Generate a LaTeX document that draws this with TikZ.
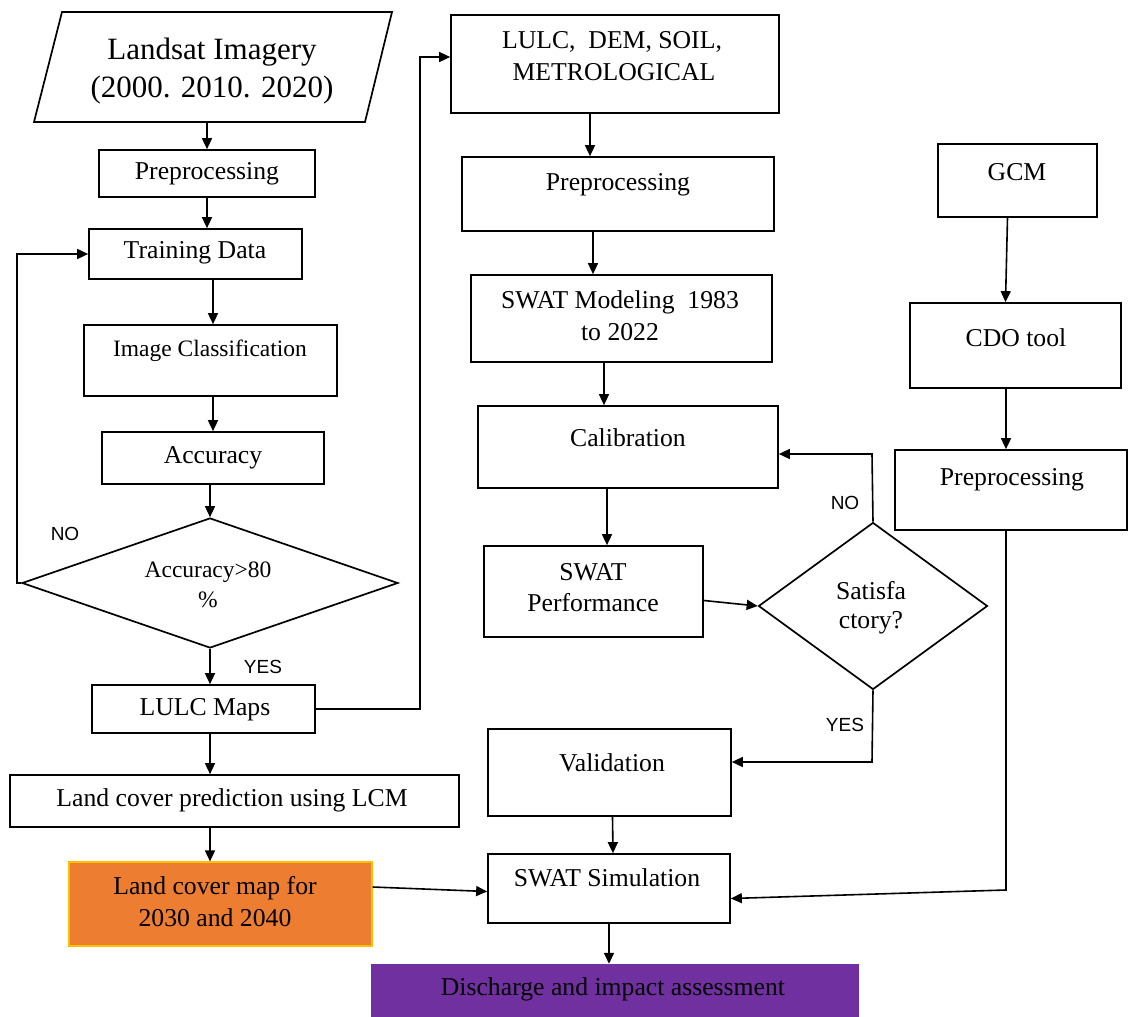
\documentclass[tikz,border=0pt]{standalone}
\usepackage{fontspec}
\setmainfont{Liberation Serif}
\newfontfamily\labsans{Liberation Sans}
\usetikzlibrary{arrows.meta,shapes.geometric,fit,calc}
\definecolor{orangefill}{HTML}{ED7D31}
\definecolor{orangeedge}{HTML}{FFC000}
\definecolor{purplefill}{HTML}{7030A0}
\tikzset{
  box/.style={draw, line width=1.7pt, inner sep=0pt},
  txt/.style={font=\fontsize{25.7}{30}\selectfont, inner sep=0pt, align=center},
  bigtxt/.style={font=\fontsize{31}{37}\selectfont, inner sep=0pt, align=center},
  lab/.style={font=\labsans\fontsize{19}{22}\selectfont, inner sep=0pt},
  arr/.style={line width=1.6pt, -{Triangle[length=11pt,width=10pt]}},
  ln/.style={line width=1.7pt}
}
\begin{document}
\begin{tikzpicture}[x=1pt,y=-1pt]
\useasboundingbox (0,0) rectangle (1128,1017);
\fill[white] (0,0) rectangle (1128,1017);

% ---------- left column ----------
\draw[ln] (62,12) -- (392,12) -- (365,122) -- (34,122) -- cycle;
\coordinate (landS) at (207,122);
\node[bigtxt] (tland1) at (212,52) {Landsat Imagery};
\node[bigtxt] (tland2) at (212,90) {(2000. 2010. 2020)};

\node[box, fit={(99,150) (315,197)}] (pre1) {};
\node[txt] (tpre1) at (207,174) {Preprocessing};

\node[box, fit={(89,229) (302,279)}] (train) {};
\node[txt] (ttrain) at (195,253) {Training Data};

\node[box, fit={(84,325) (337,396)}] (imgc) {};
\node[txt, font=\fontsize{23.5}{28}\selectfont] (timgc) at (210,351) {Image Classification};

\node[box, fit={(102,432) (324,484)}] (acc) {};
\node[txt] (tacc) at (213,458) {Accuracy};

\node[box, diamond, minimum width=376pt, minimum height=130pt] (dacc) at (210,583) {};
\node[txt, font=\fontsize{23.5}{28}\selectfont] (tdacc1) at (208,572) {Accuracy>80};
\node[txt, font=\fontsize{23.5}{28}\selectfont] (tdacc2) at (208,600) {\%};
\node[lab] (lno1) at (65,534) {NO};
\node[lab] (lyes1) at (263,667) {YES};

\node[box, fit={(92,685) (315,733)}] (lulcm) {};
\node[txt] (tlulcm) at (205,710) {LULC Maps};

\node[box, fit={(10,775) (459,827)}] (lcp) {};
\node[txt] (tlcp) at (232,800) {Land cover prediction using LCM};

\node[draw=orangeedge, fill=orangefill, line width=1.2pt, inner sep=0pt, fit={(69,862) (372,946)}] (omap) {};
\node[txt] (tomap1) at (215,888) {Land cover map for};
\node[txt] (tomap2) at (215,918) {2030 and 2040};

\node[fill=purplefill, inner sep=0pt, fit={(371,964) (859,1017)}] (dis) {};
\node[txt] (tdis) at (613,989) {Discharge and impact assessment};

% ---------- middle column ----------
\node[box, fit={(451,15) (779,113)}] (lulcd) {};
\node[txt] (tlulcd1) at (612,42) {LULC,\ \ DEM, SOIL,};
\node[txt] (tlulcd2) at (614,72) {METROLOGICAL};

\node[box, fit={(462,157) (774,231)}] (pre2) {};
\node[txt] (tpre2) at (618,185) {Preprocessing};

\node[box, fit={(471,275) (772,362)}] (swm) {};
\node[txt] (tswm1) at (620,302) {SWAT Modeling\ \ 1983};
\node[txt] (tswm2) at (620,332) {to 2022};

\node[box, fit={(478,406) (778,488)}] (cal) {};
\node[txt] (tcal) at (628,438) {Calibration};

\node[box, fit={(484,546) (703,637)}] (swp) {};
\node[txt] (tswp1) at (593,572) {SWAT};
\node[txt] (tswp2) at (593,603) {Performance};

\node[box, diamond, minimum width=229pt, minimum height=167pt] (dsat) at (873,606) {};
\node[txt] (tdsat1) at (871,591) {Satisfa};
\node[txt] (tdsat2) at (871,623) {ctory?};
\node[lab] (lno2) at (845,503) {NO};
\node[lab] (lyes2) at (845,725) {YES};

\node[box, fit={(488,729) (731,816)}] (val) {};
\node[txt] (tval) at (612,763) {Validation};

\node[box, fit={(488,854) (730,923)}] (ssim) {};
\node[txt] (tssim) at (607,878) {SWAT Simulation};

% ---------- right column ----------
\node[box, fit={(938,144) (1097,217)}] (gcm) {};
\node[txt] (tgcm) at (1017,172) {GCM};

\node[box, fit={(910,303) (1121,388)}] (cdo) {};
\node[txt] (tcdo) at (1016,338) {CDO tool};

\node[box, fit={(895,450) (1127,530)}] (pre3) {};
\node[txt] (tpre3) at (1012,480) {Preprocessing};

% ---------- connectors ----------
\draw[arr] (landS) -- (pre1.north);
\draw[arr] (pre1.south) -- (pre1.south |- train.north);
\draw[arr] (train.south -| acc.north) -- (imgc.north -| acc.north);
\draw[arr] (imgc.south -| acc.north) -- (acc.north);
\draw[arr] (acc.south -| dacc.north) -- (dacc.north);
\draw[arr] (dacc.south) -- (dacc.south |- lulcm.north);
\coordinate (loopL) at (17,583);
\draw[arr] (dacc.west) -- (loopL) |- (train.west);
\coordinate (upR) at (420,57);
\draw[arr] (lulcm.east) -| (upR) -- (upR -| lulcd.west);
\draw[arr] (lulcm.south -| dacc.south) -- (lcp.north -| dacc.south);
\draw[arr] (lcp.south -| dacc.south) -- (omap.north -| dacc.south);

\draw[arr] ([xshift=-25pt]lulcd.south) -- ([xshift=-28pt]pre2.north);
\draw[arr] ([xshift=-25pt]pre2.south) -- ([xshift=-28.5pt]swm.north);
\draw[arr] ([xshift=-17.5pt]swm.south) -- ([xshift=-24pt]cal.north);
\draw[arr] ([xshift=-21pt]cal.south) -- ([xshift=13.5pt]swp.north);
\draw[arr] ([yshift=-9pt]swp.east) -- (dsat.west);
\coordinate (noC) at (872,454);
\draw[arr] (dsat.north) -- (noC) -- (noC -| cal.east);
\coordinate (yesC) at (872,762);
\draw[arr] (dsat.south) -- (yesC) -- (yesC -| val.east);
\draw[arr] ([xshift=3pt]val.south) -- ([xshift=4pt]ssim.north);
\draw[arr] (ssim.south) -- (ssim.south |- dis.north);

\draw[arr] ([yshift=17pt]omap.east) -- ([yshift=-3pt]ssim.west);

\draw[arr] ([xshift=-10pt]gcm.south) -- ([xshift=-10pt]cdo.north);
\draw[arr] ([xshift=-9.5pt]cdo.south) -- ([xshift=-5pt]pre3.north);
\coordinate (pC) at (1006,890);
\draw[arr] (pre3.south -| pC) -- (pC) -- ([yshift=-10pt]ssim.east);
\end{tikzpicture}
\end{document}
